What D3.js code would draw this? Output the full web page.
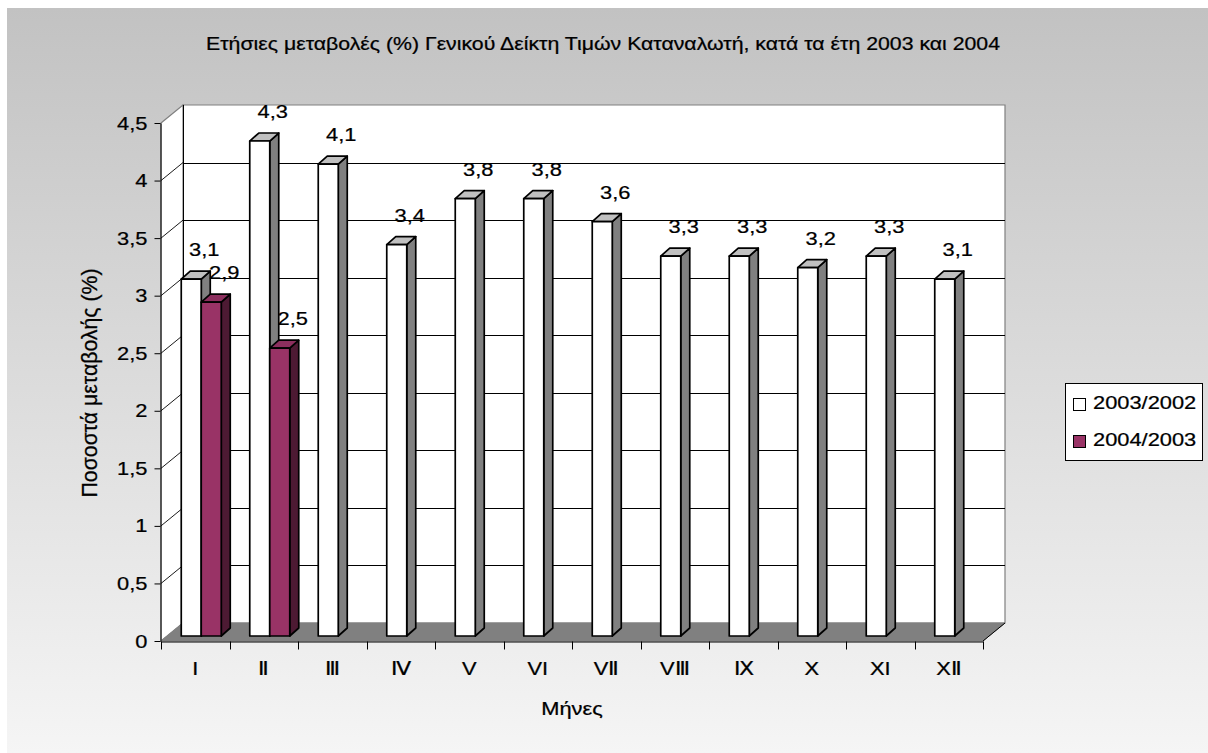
<!DOCTYPE html>
<html>
<head>
<meta charset="utf-8">
<script src="https://cdn.jsdelivr.net/npm/d3@7/dist/d3.min.js"></script>
<style>
  html, body { margin: 0; padding: 0; background: #ffffff; }
  svg { display: block; }
  text { font-family: "Liberation Sans", Arial, Helvetica, sans-serif; fill: #000; stroke: #000; stroke-width: 0.25px; }
</style>
</head>
<body>
<svg id="chart" width="1208" height="753"></svg>
<script>
// ---------- DATA ----------
const title = "Ετήσιες μεταβολές (%) Γενικού Δείκτη Τιμών Καταναλωτή, κατά τα έτη 2003 και 2004";
const yTitle = "Ποσοστά μεταβολής (%)";
const xTitle = "Μήνες";
const months = ["I", "Ⅱ", "Ⅲ", "Ⅳ", "V", "VI", "VⅡ", "VⅢ", "Ⅸ", "X", "XI", "XⅡ"];
const seriesNames = ["2003/2002", "2004/2003"];
const values2003 = [3.1, 4.3, 4.1, 3.4, 3.8, 3.8, 3.6, 3.3, 3.3, 3.2, 3.3, 3.1];
const values2004 = [2.9, 2.5, null, null, null, null, null, null, null, null, null, null];
const yTicks = [0, 0.5, 1, 1.5, 2, 2.5, 3, 3.5, 4, 4.5];

// ---------- LAYOUT / STYLE ----------
const W = 1208, H = 753;
const FS = 19;          // font size
const SX = 1.15;        // horizontal text stretch seen in the reference
const plot = { left: 161, right: 983, bottom: 641, top: 123 };
const depth = { dx: 22, dy: -18 };        // wall depth
const barOff = { dx: 6, dy: -5 };         // bar front plane offset
const barDepth = { dx: 9, dy: -8 };       // bar depth
const colors = [
  { front: "#ffffff", top: "#c0c0c0", side: "#808080" },
  { front: "#993366", top: "#8c2f5e", side: "#4d1a33" }
];

const fmt = d3.formatLocale({ decimal: ",", thousands: ".", grouping: [3], currency: ["", "€"] });
const tickFmt = fmt.format("~g");
const labelFmt = fmt.format(".1f");

const svg = d3.select("#chart");

// background gradient
const defs = svg.append("defs");
const grad = defs.append("linearGradient").attr("id", "bg").attr("x1", 0).attr("y1", 0).attr("x2", 0).attr("y2", 1);
grad.append("stop").attr("offset", "0%").attr("stop-color", "#c2c2c2");
grad.append("stop").attr("offset", "100%").attr("stop-color", "#f5f5f5");
svg.append("rect").attr("x", 0).attr("y", 0).attr("width", W).attr("height", H).attr("fill", "#ffffff");
svg.append("rect").attr("x", 7).attr("y", 8).attr("width", W - 7).attr("height", H - 8).attr("fill", "url(#bg)");

// scales
const x = d3.scaleBand().domain(months).range([plot.left, plot.right]).paddingInner(0).paddingOuter(0);
const xs = d3.scaleBand().domain(seriesNames).range([0, x.bandwidth()]).paddingInner(0).paddingOuter(0.7125);
const y = d3.scaleLinear().domain([0, 4.5]).range([plot.bottom, plot.top]);

const yMax = y.domain()[1];
const bx0 = plot.left + depth.dx, bx1 = plot.right + depth.dx;
const byTop = y(yMax) + depth.dy, byBot = y(0) + depth.dy;

function poly(pts) { return "M" + pts.map(p => p.join(",")).join("L") + "Z"; }

function stretched(sel, sx = SX, along = 1) {
  // apply the horizontal stretch around each text's anchor point
  sel.each(function () {
    const t = d3.select(this);
    const tx = +t.attr("x") || 0, ty = +t.attr("y") || 0;
    const rot = t.attr("data-rot");
    t.attr("x", 0).attr("y", 0)
      .attr("transform", `translate(${tx},${ty}) scale(${sx},1)` + (rot ? ` rotate(${rot}) scale(${along},1)` : ""));
  });
}

// ---------- WALLS ----------
const walls = svg.append("g");
walls.append("path")
  .attr("d", poly([[bx0, byTop], [bx1, byTop], [bx1, byBot], [bx0, byBot]]))
  .attr("fill", "#ffffff").attr("stroke", "#808080").attr("stroke-width", 1.2);
walls.append("path")
  .attr("d", poly([[plot.left, y(yMax)], [bx0, byTop], [bx0, byBot], [plot.left, y(0)]]))
  .attr("fill", "#ffffff").attr("stroke", "#808080").attr("stroke-width", 1.2);
walls.append("path")
  .attr("d", poly([[plot.left, y(0)], [plot.right, y(0)], [bx1, byBot], [bx0, byBot]]))
  .attr("fill", "#808080").attr("stroke", "#808080");

const inner = yTicks.filter(t => t > 0 && t < yMax);
walls.selectAll("line.gridBack").data(inner).join("line")
  .attr("x1", bx0).attr("x2", bx1)
  .attr("y1", d => Math.round(y(d) + depth.dy) + 0.5).attr("y2", d => Math.round(y(d) + depth.dy) + 0.5)
  .attr("stroke", "#000").attr("stroke-width", 1.1);
walls.selectAll("line.gridSide").data(inner).join("line")
  .attr("x1", plot.left).attr("y1", d => y(d))
  .attr("x2", bx0).attr("y2", d => y(d) + depth.dy)
  .attr("stroke", "#000").attr("stroke-width", 0.9);
walls.append("line").attr("x1", bx0 + 0.5).attr("x2", bx0 + 0.5).attr("y1", byTop).attr("y2", byBot)
  .attr("stroke", "#000").attr("stroke-width", 1);
walls.append("line").attr("x1", plot.right).attr("y1", y(0)).attr("x2", bx1).attr("y2", byBot)
  .attr("stroke", "#000").attr("stroke-width", 1);

// ---------- BARS ----------
const barData = [];
months.forEach((m, i) => {
  [values2003, values2004].forEach((vals, s) => {
    if (vals[i] != null) barData.push({ m, s, v: vals[i] });
  });
});

const bars = svg.append("g").attr("stroke", "#000").attr("stroke-width", 1.7).attr("stroke-linejoin", "round");
const bg = bars.selectAll("g.bar").data(barData).join("g").attr("class", "bar");
bg.each(function (d) {
  const g = d3.select(this);
  const bw = xs.bandwidth();
  const xl = x(d.m) + xs(seriesNames[d.s]) + barOff.dx;
  const xr = xl + bw;
  const yt = y(d.v) + barOff.dy;
  const yb = y(0) + barOff.dy;
  const c = colors[d.s];
  g.append("path").attr("d", poly([[xr, yt], [xr + barDepth.dx, yt + barDepth.dy], [xr + barDepth.dx, yb + barDepth.dy], [xr, yb]]))
    .attr("fill", c.side);
  g.append("path").attr("d", poly([[xl, yt], [xr, yt], [xr + barDepth.dx, yt + barDepth.dy], [xl + barDepth.dx, yt + barDepth.dy]]))
    .attr("fill", c.top);
  g.append("path").attr("d", poly([[xl, yt], [xr, yt], [xr, yb], [xl, yb]]))
    .attr("fill", c.front);
});

// ---------- AXES ----------
const yAxis = svg.append("g").attr("transform", `translate(${plot.left - 0.5},0)`)
  .call(d3.axisLeft(y).tickValues(yTicks).tickFormat(tickFmt).tickSize(6).tickSizeOuter(0).tickPadding(7));
yAxis.select(".domain").attr("stroke", "#000");
yAxis.selectAll(".tick line").attr("stroke", "#000");
yAxis.selectAll(".tick text").attr("font-size", FS).attr("font-family", null).attr("fill", "#000").call(stretched);

const xAxis = svg.append("g").attr("transform", `translate(0,${plot.bottom + 0.5})`)
  .call(d3.axisBottom(x).tickSize(0).tickSizeOuter(0).tickPadding(20));
xAxis.select(".domain").attr("stroke", "#000");
xAxis.selectAll(".tick text").attr("font-size", FS).attr("font-family", null).attr("fill", "#000").call(stretched);
const bounds = months.map(m => x(m)).concat([x.range()[1]]);
xAxis.selectAll("line.bound").data(bounds).join("line")
  .attr("x1", d => Math.round(d) + 0.5).attr("x2", d => Math.round(d) + 0.5)
  .attr("y1", 0).attr("y2", 8).attr("stroke", "#000");

// ---------- BAR LABELS ----------
svg.append("g").selectAll("text").data(barData).join("text")
  .attr("x", d => x(d.m) + xs(seriesNames[d.s]) + barOff.dx + xs.bandwidth() / 2 + 13)
  .attr("y", d => y(d.v) - 28)
  .attr("text-anchor", "middle").attr("font-size", FS)
  .text(d => labelFmt(d.v))
  .call(stretched);

// ---------- TITLES ----------
svg.append("text").attr("x", 603).attr("y", 50).attr("text-anchor", "middle").attr("font-size", FS)
  .text(title).call(stretched, 1.12);
svg.append("text").attr("x", 572).attr("y", 715).attr("text-anchor", "middle").attr("font-size", FS)
  .text(xTitle).call(stretched);
svg.append("text").attr("x", 97).attr("y", 383).attr("data-rot", -90).attr("text-anchor", "middle").attr("font-size", FS)
  .text(yTitle).call(stretched, SX, 1.12);

// ---------- LEGEND ----------
const legend = svg.append("g");
legend.append("rect").attr("x", 1065.5).attr("y", 383.5).attr("width", 137).attr("height", 77)
  .attr("fill", "#ffffff").attr("stroke", "#000");
const li = legend.selectAll("g.item").data(seriesNames).join("g").attr("class", "item")
  .attr("transform", (d, i) => `translate(1073,${398 + i * 37})`);
li.append("rect").attr("x", 0.5).attr("y", 0.5).attr("width", 12).attr("height", 12)
  .attr("fill", (d, i) => colors[i].front).attr("stroke", "#000");
li.append("text").attr("x", 20).attr("y", 11).attr("font-size", FS).text(d => d).call(stretched);
</script>
</body>
</html>
